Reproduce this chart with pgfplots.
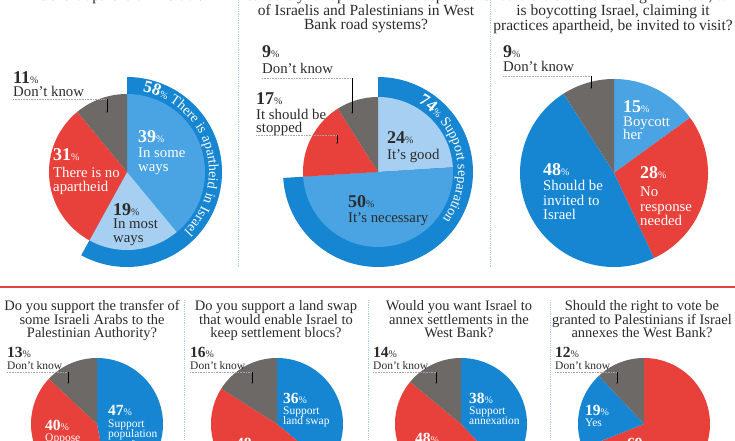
\documentclass[border=0pt]{standalone}
\usepackage{pgfplots}
\pgfplotsset{compat=1.18}
\usepackage{fontspec}
\setmainfont{Liberation Serif}
\definecolor{dblue}{HTML}{1686D3}
\definecolor{mblue}{HTML}{4AA3E2}
\definecolor{lblue}{HTML}{A6CFF1}
\definecolor{pred}{HTML}{E8413B}
\definecolor{pgray}{HTML}{6D6967}
\definecolor{ink}{HTML}{2B2B2B}
\definecolor{divc}{HTML}{A9D0EE}
\definecolor{redline}{HTML}{E0463F}
\pgfplotsset{pie/.style={anchor=origin, scale only axis, width=200pt, height=200pt,
  xmin=-100,xmax=100,ymin=-100,ymax=100, hide axis, clip=false}}
% colour, cumulative start %, cumulative end %, radius
\newcommand{\sect}[4]{\addplot[fill=#1, draw=none, domain={90-3.6*(#3)}:{90-3.6*(#2)}, samples=90, variable=\t] ({#4*cos(\t)},{#4*sin(\t)}) -- (axis cs:0,0) -- cycle;}
\newcommand{\pnum}[2][18]{{\bfseries\fontsize{#1}{#1}\selectfont #2}{\fontsize{10}{10}\selectfont\%}}
\newcommand{\TL}[4][ink]{\node[anchor=base west, inner sep=0pt, text=#1] at (#2,440-#3) {#4};}
\newcommand{\CL}[3]{\node[anchor=base, inner sep=0pt, text=ink, font=\fontsize{15.5}{15.5}\selectfont] at (#1,440-#2) {#3};}
\newcommand{\CB}[3]{\node[anchor=base, inner sep=0pt, text=ink, font=\fontsize{14.5}{14.5}\selectfont] at (#1,440-#2) {#3};}
\newcommand{\lead}[4]{% x0, xv, y, y1
 \draw[gray!70, densely dotted, line width=0.6pt] (#1,440-#3) -- (#2,440-#3);
 \draw[black, line width=0.5pt] (#2,440-#3) -- (#2,440-#4);
 \fill[black] (#2,440-#4) circle (0.7pt);}
% text set character by character along a clockwise arc
\newbox\arcbox
\newdimen\arcang
\newdimen\arcstep
\makeatletter
\def\arcloop#1{\ifx#1\relax\else\arcone{#1}\expandafter\arcloop\fi}
\def\arcone#1{%
  \node[inner sep=0pt] at (0,0) {\arcfont\global\setbox\arcbox=\hbox{#1}};
  \arcstep=57.29578\wd\arcbox
  \divide\arcstep by \arcr
  \advance\arcang by -0.5\arcstep
  \edef\midang{\strip@pt\arcang}%
  \node[text=white, inner sep=0pt, anchor=base, rotate=\midang-90] at ([shift={(\midang:\arcr pt)}]\arccx,\arccy) {\arcfont #1};
  \advance\arcang by -0.5\arcstep}
\makeatother
\newcommand{\bigf}{\bfseries\fontsize{17}{17}\selectfont}
\newcommand{\pcf}{\fontsize{10}{10}\selectfont}
\newcommand{\rgf}{\fontsize{14}{14}\selectfont}
\begin{document}
\begin{tikzpicture}[x=1pt,y=1pt, font=\fontsize{14.8}{14.8}\selectfont]
\useasboundingbox (0,0) rectangle (735,440);
\clip (0,0) rectangle (735,440);
\fill[white] (0,0) rectangle (735,440);
% ---------- top row pies ----------
\begin{axis}[pie, at={(127,268)}]
 \sect{dblue}{0}{58}{95}
 \sect{mblue}{0}{39}{78}
 \sect{lblue}{39}{58}{78}
 \sect{pred}{58}{89}{78}
 \sect{pgray}{89}{100}{78}
\end{axis}
\begin{axis}[pie, at={(378,268)}]
 \sect{dblue}{0}{74}{95}
 \sect{lblue}{0}{24}{75}
 \sect{mblue}{24}{74}{75}
 \sect{pred}{74}{91}{75}
 \sect{pgray}{91}{100}{75}
\end{axis}
\begin{axis}[pie, at={(614,267)}]
 \sect{mblue}{0}{15}{94}
 \sect{pred}{15}{43}{94}
 \sect{dblue}{43}{91}{94}
 \sect{pgray}{91}{100}{94}
\end{axis}
% ---------- bottom row pies ----------
\begin{axis}[pie, at={(97,16)}]
 \sect{dblue}{0}{47}{66}
 \sect{pred}{47}{87}{66}
 \sect{pgray}{87}{100}{66}
\end{axis}
\begin{axis}[pie, at={(277,16)}]
 \sect{dblue}{0}{36}{66}
 \sect{pred}{36}{84}{66}
 \sect{pgray}{84}{100}{66}
\end{axis}
\begin{axis}[pie, at={(461,16)}]
 \sect{dblue}{0}{38}{66}
 \sect{pred}{38}{86}{66}
 \sect{pgray}{86}{100}{66}
\end{axis}
\begin{axis}[pie, at={(644,16)}]
 \sect{pred}{0}{69}{66}
 \sect{dblue}{69}{88}{66}
 \sect{pgray}{88}{100}{66}
\end{axis}
% ---------- dividers ----------
\draw[divc, densely dotted, line width=0.8pt] (238,440) -- (238,172);
\draw[divc, densely dotted, line width=0.8pt] (490,440) -- (490,172);
\draw[divc, densely dotted, line width=0.8pt] (184,140) -- (184,0);
\draw[divc, densely dotted, line width=0.8pt] (368,140) -- (368,0);
\draw[divc, densely dotted, line width=0.8pt] (550,140) -- (550,0);
\draw[redline, line width=1.8pt] (0,153) -- (735,153);
% ---------- top titles ----------
\CL{120}{1}{Is there apartheid in Israel?}
\CL{366}{1}{What is your opinion on the separation}
\CL{366}{16}{of Israelis and Palestinians in West}
\CL{366}{30}{Bank road systems?}
\CL{613}{1}{Should the Swedish foreign minister, who}
\CL{613}{16}{is boycotting Israel, claiming it}
\CL{613}{31}{practices apartheid, be invited to visit?}
% ---------- ring texts ----------
\def\arccx{127}\def\arccy{268}\def\arcr{82}\arcang=79pt
\let\arcfont\bigf \arcloop 58\relax
\let\arcfont\pcf \arcloop \%\relax
\let\arcfont\rgf \arcloop ~There~is~apartheid~in~Israel\relax
\def\arccx{378}\def\arccy{268}\def\arcr{80}\arcang=60pt
\let\arcfont\bigf \arcloop 74\relax
\let\arcfont\pcf \arcloop \%\relax
\let\arcfont\rgf \arcloop ~Support~separation\relax
% ---------- pie 1 labels ----------
\TL{13}{84}{\pnum{11}}
\TL{13}{96}{Don't know}
\lead{13}{107}{99}{112}
\TL[white]{138}{142}{\pnum{39}}
\TL[white]{138}{157}{In some}
\TL[white]{138}{171}{ways}
\TL{113}{215}{\pnum{19}}
\TL{113}{228}{In most}
\TL{113}{242}{ways}
\TL[white]{53}{160}{\pnum{31}}
\TL[white]{53}{177}{There is no}
\TL[white]{53}{191}{apartheid}
% ---------- pie 2 labels ----------
\TL{262}{58}{\pnum{9}}
\TL{262}{74}{Don't know}
\lead{262}{352}{78}{113}
\TL{256}{105}{\pnum{17}}
\TL{256}{119}{It should be}
\TL{256}{132}{stopped}
\lead{256}{337}{135}{143}
\TL{387}{143}{\pnum{24}}
\TL{387}{159}{It's good}
\TL{348}{207}{\pnum{50}}
\TL{348}{222}{It's necessary}
% ---------- pie 3 labels ----------
\TL{503}{58}{\pnum{9}}
\TL{503}{72}{Don't know}
\lead{503}{591}{76}{88}
\TL[white]{623}{113}{\pnum{15}}
\TL[white]{623}{126}{Boycott}
\TL[white]{623}{139}{her}
\TL[white]{640}{178}{\pnum{28}}
\TL[white]{640}{196}{No}
\TL[white]{640}{211}{response}
\TL[white]{640}{225}{needed}
\TL[white]{543}{175}{\pnum{48}}
\TL[white]{543}{190}{Should be}
\TL[white]{543}{205}{invited to}
\TL[white]{543}{219}{Israel}
% ---------- bottom titles ----------
\CB{92}{310}{Do you support the transfer of}
\CB{92}{324}{some Israeli Arabs to the}
\CB{92}{337}{Palestinian Authority?}
\CB{276}{310}{Do you support a land swap}
\CB{276}{324}{that would enable Israel to}
\CB{276}{337}{keep settlement blocs?}
\CB{459}{310}{Would you want Israel to}
\CB{459}{324}{annex settlements in the}
\CB{459}{337}{West Bank?}
\CB{642}{310}{Should the right to vote be}
\CB{642}{324}{granted to Palestinians if Israel}
\CB{642}{337}{annexes the West Bank?}
% ---------- bottom labels ----------
\begin{scope}[font=\fontsize{11.5}{11.5}\selectfont]
\TL{7}{357}{\pnum[15.5]{13}}
\TL{7}{369}{Don't know}
\lead{7}{68}{372}{383}
\TL[white]{108}{415}{\pnum[15.5]{47}}
\TL[white]{108}{427}{Support}
\TL[white]{108}{437}{population}
\TL[white]{108}{448}{transfer}
\TL[white]{45}{430}{\pnum[15.5]{40}}
\TL[white]{45}{441}{Oppose}
\TL{190}{357}{\pnum[15.5]{16}}
\TL{190}{369}{Don't know}
\lead{190}{252}{372}{383}
\TL[white]{283}{403}{\pnum[15.5]{36}}
\TL[white]{283}{414}{Support}
\TL[white]{283}{424}{land swap}
\TL[white]{236}{448}{\pnum[15.5]{48}}
\TL{373}{357}{\pnum[15.5]{14}}
\TL{373}{369}{Don't know}
\lead{373}{436}{372}{383}
\TL[white]{469}{403}{\pnum[15.5]{38}}
\TL[white]{469}{414}{Support}
\TL[white]{469}{424}{annexation}
\TL[white]{415}{443}{\pnum[15.5]{48}}
\TL{555}{357}{\pnum[15.5]{12}}
\TL{555}{369}{Don't know}
\lead{555}{617}{372}{383}
\TL[white]{585}{415}{\pnum[15.5]{19}}
\TL[white]{585}{426}{Yes}
\TL[white]{627}{448}{\pnum[15.5]{69}}
\end{scope}
\end{tikzpicture}
\end{document}
